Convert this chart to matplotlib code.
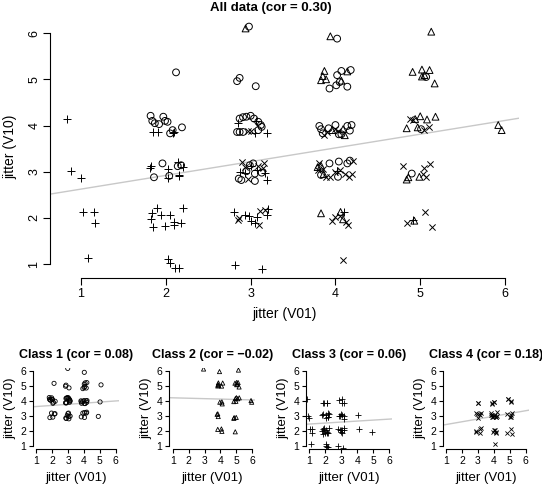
import matplotlib
matplotlib.use("Agg")
import matplotlib.pyplot as plt

plt.rcParams['font.family'] = ['Liberation Sans', 'DejaVu Sans']

# class 1 (circles)
c1_x = [1.82, 1.84, 1.87, 1.92, 1.97, 1.99, 2.02, 2.05, 2.08, 2.19, 1.96, 1.86, 2.04, 2.14, 2.18, 2.12,
        2.98, 2.84, 2.87, 3.06, 2.87, 2.91, 2.95, 3.00, 3.04, 3.09, 3.12, 2.84, 2.87, 2.91, 3.09, 3.13,
        2.86, 2.89, 2.95, 3.05, 3.05, 2.99, 3.03, 3.13,
        4.02, 4.02, 4.07, 4.18, 3.93, 4.01, 4.14, 4.05, 3.81, 3.83, 4.00, 4.14, 4.19, 4.04, 4.07, 3.85,
        4.17, 3.92, 3.93, 4.04, 4.14, 4.17, 3.83, 4.03,
        5.07, 5.01, 4.90]
c1_y = [4.21, 4.10, 4.05, 4.03, 4.19, 4.10, 4.08, 3.83, 3.90, 3.96, 3.18, 2.88, 2.91, 3.12, 3.14, 5.15,
        6.14, 4.96, 5.03, 4.85, 4.15, 4.18, 4.19, 4.21, 4.15, 4.08, 4.01, 3.86, 3.86, 3.86, 3.90, 3.97,
        2.85, 2.82, 3.01, 2.96, 2.80, 3.14, 3.18, 2.98,
        5.88, 5.09, 5.18, 5.20, 4.80, 4.87, 4.84, 4.94, 3.99, 3.92, 4.01, 3.99, 4.01, 3.81, 3.81, 3.83,
        3.89, 3.94, 3.18, 3.22, 3.18, 3.24, 2.93, 2.89,
        5.05, 3.92, 2.96]

# class 2 (triangles)
c2_x = [2.94, 3.94, 3.87, 3.85, 3.83, 3.89, 4.14, 4.07, 3.96, 4.09, 4.11, 3.79, 3.83, 3.86, 3.83, 4.06, 4.09,
        5.13, 4.91, 5.02, 5.11, 5.05, 5.17, 5.02, 5.00, 5.08, 5.18, 4.84, 4.97, 4.94, 4.84, 4.86, 4.99, 4.93,
        5.92, 5.96]
c2_y = [6.10, 5.93, 5.18, 5.07, 4.98, 5.00, 5.17, 4.97, 3.90, 3.92, 3.79, 3.10, 3.13, 2.95, 2.10, 2.13, 1.97,
        6.03, 5.16, 5.21, 5.20, 5.09, 4.91, 5.06, 4.20, 4.13, 4.19, 3.94, 3.96, 4.14, 2.83, 2.88, 2.89, 1.94,
        4.01, 3.90]

# class 3 (plus)
c3_x = [0.84, 0.88, 1.00, 1.02, 1.15, 1.17, 1.08,
        1.85, 1.91, 2.10, 2.09, 1.81, 1.83, 2.03, 2.03, 2.14, 2.15, 2.20, 2.16, 1.89, 1.84, 1.82, 1.94,
        2.05, 2.20, 1.85, 1.99, 2.10, 2.10, 2.18, 2.02, 2.05, 2.11, 2.16,
        2.85, 3.06, 3.05, 3.19, 2.87, 2.93, 3.17, 3.19, 3.01, 3.07, 2.80, 2.93, 2.98, 3.00, 3.07, 3.05,
        3.19, 3.20, 2.81, 3.13,
        4.02, 4.10, 4.92]
c3_y = [4.14, 3.01, 2.87, 2.13, 2.13, 1.89, 1.14,
        3.87, 3.87, 3.87, 3.83, 3.08, 3.13, 3.05, 2.87, 3.20, 2.90, 3.11, 2.93, 2.21, 2.10, 1.97, 2.06,
        2.06, 2.21, 1.81, 1.83, 1.84, 1.92, 1.88, 1.12, 1.03, 0.91, 0.91,
        4.05, 4.10, 3.83, 3.83, 3.00, 2.97, 2.97, 2.82, 3.12, 3.04, 2.13, 2.06, 2.05, 1.94, 2.03, 1.89,
        2.06, 2.19, 0.98, 0.89,
        3.02, 2.12, 1.95]

# class 4 (cross)
c4_x = [2.97, 3.00, 2.90, 2.93, 3.09, 3.15, 2.97, 3.16, 2.85, 2.86, 3.11, 3.10, 3.17,
        3.87, 4.03, 3.99, 3.90, 3.81, 3.80, 3.85, 3.89, 3.94, 4.00, 4.05, 4.11, 4.16, 4.20, 4.21,
        3.96, 4.00, 4.05, 4.12, 4.15, 4.09,
        4.88, 4.91, 5.05, 5.10, 4.80, 5.05, 5.11, 5.07, 5.03, 5.06, 4.84, 5.14]
c4_y = [3.88, 3.88, 3.20, 3.10, 3.12, 3.07, 2.85, 3.18, 1.95, 2.00, 2.15, 1.84, 2.18,
        3.79, 3.89, 3.92, 3.86, 3.18, 3.04, 3.06, 2.89, 2.89, 3.00, 3.03, 2.94, 2.89, 2.96, 3.24,
        1.94, 2.03, 2.05, 1.92, 1.84, 1.10,
        4.13, 4.11, 3.90, 3.97, 3.12, 3.07, 3.16, 2.89, 2.95, 2.13, 1.88, 1.81]

class_names = ["Class 1", "Class 2", "Class 3", "Class 4"]
class_cor = ["0.08", "\u22120.02", "0.06", "0.18"]
all_cor = "0.30"

# fitted lines (intercept, slope)
all_fit = (2.327, 0.297)
class_fit = [(3.54, 0.074), (4.22, -0.028), (2.39, 0.065), (2.24, 0.183)]

ticks = [1, 2, 3, 4, 5, 6]

classes = [(c1_x, c1_y, 'o'), (c2_x, c2_y, '^'), (c3_x, c3_y, '+'), (c4_x, c4_y, 'x')]
line_col = '#c8c8c8'


def r_style(ax, tl, fs, rot_y):
    for s in ['top', 'right']:
        ax.spines[s].set_visible(False)
    ax.spines['left'].set_bounds(1, 6)
    ax.spines['bottom'].set_bounds(1, 6)
    ax.spines['left'].set_linewidth(0.8)
    ax.spines['bottom'].set_linewidth(0.8)
    ax.set_xticks(ticks)
    ax.set_yticks(ticks)
    ax.tick_params(length=tl, width=0.8, labelsize=fs, pad=2)
    if rot_y:
        for lab in ax.get_yticklabels():
            lab.set_rotation(90)
            lab.set_va('center')


fig = plt.figure(figsize=(5.42, 4.84), dpi=100)

ax = fig.add_axes([0.0923, 0.4256, 0.8653, 0.5414])
sizes_main = {'o': 24, '^': 24, '+': 34, 'x': 20}
for x, y, m in classes:
    if m in ('+', 'x'):
        ax.scatter(x, y, marker=m, s=sizes_main[m], c='black', linewidths=0.7, zorder=3)
    else:
        ax.scatter(x, y, marker=m, s=sizes_main[m], facecolors='none', edgecolors='black',
                   linewidths=0.7, zorder=3)
ax.axline((0, all_fit[0]), slope=all_fit[1], color=line_col, lw=1.0, zorder=2)
ax.set_xlim(0.634, 6.165)
ax.set_ylim(0.70, 6.37)
r_style(ax, 5, 9, True)
ax.set_xlabel("jitter (V01)", fontsize=10, labelpad=5)
ax.set_ylabel("jitter (V10)", fontsize=10, labelpad=8)
fig.text(0.5, 1 - 8 / 484, "All data (cor = %s)" % all_cor, fontsize=9.5, fontweight='bold',
         ha='center', va='center')

lefts = [0.0609, 0.3127, 0.565, 0.8173]
sizes_small = {'o': 9, '^': 9, '+': 14, 'x': 9}
for i, (x, y, m) in enumerate(classes):
    a = fig.add_axes([lefts[i], 0.0723, 0.1587, 0.1684])
    if m in ('+', 'x'):
        a.scatter(x, y, marker=m, s=sizes_small[m], c='black', linewidths=0.6, zorder=3)
    else:
        a.scatter(x, y, marker=m, s=sizes_small[m], facecolors='none', edgecolors='black',
                  linewidths=0.6, zorder=3)
    a.axline((0, class_fit[i][0]), slope=class_fit[i][1], color=line_col, lw=1.0, zorder=2)
    a.set_xlim(0.8, 6.2)
    a.set_ylim(0.8, 6.2)
    r_style(a, 3, 7.5, False)
    a.set_xlabel("jitter (V01)", fontsize=9.5, labelpad=4)
    a.set_ylabel("jitter (V10)", fontsize=9.5, labelpad=3)
    a.set_title("%s (cor = %s)" % (class_names[i], class_cor[i]), fontsize=9, fontweight='bold', pad=7)

fig.savefig("out.png", dpi=100)
